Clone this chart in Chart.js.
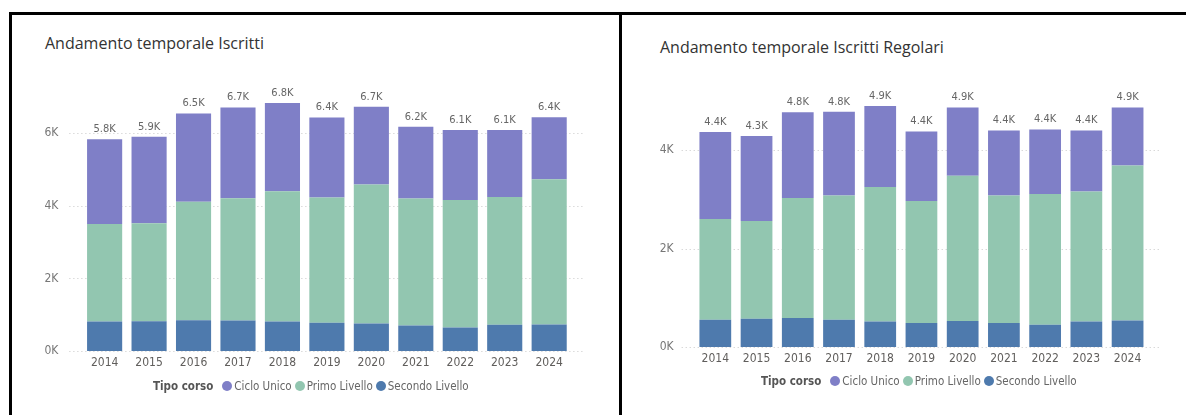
<!DOCTYPE html>
<html>
<head>
<meta charset="utf-8">
<script src="https://cdn.jsdelivr.net/npm/chart.js@4.4.1/dist/chart.umd.min.js"></script>
<style>
  body { margin: 0; width: 1186px; height: 415px; overflow: hidden; background: #fff; position: relative; }
  .line { position: absolute; background: #000; }
  .title { position: absolute; font-family: "Open Sans", sans-serif; font-size: 16px; color: #333; white-space: nowrap; }
  .legend { position: absolute; font-family: "DejaVu Sans Condensed", sans-serif; font-size: 11.5px; color: #666; white-space: nowrap; display: flex; align-items: center; }
  .legend b { color: #555; margin-right: 6px; }
  .legend .dot { display: inline-block; width: 10px; height: 10px; border-radius: 50%; margin: 0 2px 0 3px; }
  canvas { position: absolute; }
</style>
</head>
<body>
<div class="line" style="left:9px; top:12px; width:1177px; height:3px"></div>
<div class="line" style="left:9px; top:12px; width:3px; height:403px"></div>
<div class="line" style="left:619px; top:12px; width:3px; height:403px"></div>

<div class="title" style="left:45px; top:32px">Andamento temporale Iscritti</div>
<div class="title" style="left:660px; top:36px">Andamento temporale Iscritti Regolari</div>

<div style="position:absolute; left:12px; top:15px; width:607px; height:400px">
  <canvas id="chartIscritti"></canvas>
</div>
<div style="position:absolute; left:622px; top:15px; width:564px; height:400px">
  <canvas id="chartRegolari"></canvas>
</div>

<div class="legend" id="legendIscritti" style="left:153px; top:379px"></div>
<div class="legend" id="legendRegolari" style="left:761px; top:374px"></div>

<script>
const years = ["2014", "2015", "2016", "2017", "2018", "2019", "2020", "2021", "2022", "2023", "2024"];
const seriesNames = ["Secondo Livello", "Primo Livello", "Ciclo Unico"];
const seriesColors = ["#4e7aad", "#92c6b0", "#7f7fc7"];

// Iscritti
const iscrittiSecondo = [810, 820, 850, 840, 810, 780, 760, 700, 650, 720, 730];
const iscrittiPrimo = [2690, 2700, 3260, 3370, 3590, 3450, 3830, 3500, 3510, 3520, 4000];
const iscrittiCiclo = [2330, 2380, 2430, 2500, 2430, 2200, 2140, 1980, 1930, 1850, 1710];

// Iscritti regolari
const regolariSecondo = [555, 575, 590, 555, 520, 490, 530, 490, 450, 520, 540];
const regolariPrimo = [2045, 1985, 2440, 2525, 2730, 2480, 2950, 2590, 2660, 2640, 3150];
const regolariCiclo = [1770, 1730, 1740, 1700, 1650, 1410, 1390, 1320, 1310, 1240, 1180];

const yTicksIscritti = [0, 2000, 4000, 6000];
const yTicksRegolari = [0, 2000, 4000];

Chart.defaults.font.family = "DejaVu Sans Condensed";
Chart.defaults.font.size = 12;
Chart.defaults.color = "#666";

const dottedGrid = {
  id: "dottedGrid",
  beforeDatasetsDraw(chart, args, opts) {
    const ctx = chart.ctx;
    const y = chart.scales.y;
    const { left, right } = chart.chartArea;
    ctx.save();
    ctx.strokeStyle = "#c8c8c8";
    ctx.lineWidth = 1;
    ctx.setLineDash([1, 3]);
    y.ticks.forEach(t => {
      const py = Math.round(y.getPixelForValue(t.value)) + 0.5;
      ctx.beginPath();
      ctx.moveTo(left - opts.extLeft, py);
      ctx.lineTo(right + opts.extRight, py);
      ctx.stroke();
    });
    ctx.restore();
  }
};

const totalLabels = {
  id: "totalLabels",
  afterDatasetsDraw(chart) {
    const ctx = chart.ctx;
    const sets = chart.data.datasets;
    const meta = chart.getDatasetMeta(sets.length - 1);
    ctx.save();
    ctx.font = "11px 'DejaVu Sans Condensed'";
    ctx.fillStyle = "#666";
    ctx.textAlign = "center";
    ctx.textBaseline = "middle";
    meta.data.forEach((bar, i) => {
      const total = sets.reduce((s, d) => s + d.data[i], 0);
      ctx.fillText((total / 1000).toFixed(1) + "K", bar.x, bar.y - 10);
    });
    ctx.restore();
  }
};

function makeChart(id, values, ticks, cfg) {
  return new Chart(document.getElementById(id), {
    type: "bar",
    data: {
      labels: years,
      datasets: values.map((v, i) => ({
        label: seriesNames[i],
        data: v,
        backgroundColor: seriesColors[i],
        borderWidth: 0,
        categoryPercentage: 1,
        barPercentage: cfg.barPct,
      })),
    },
    options: {
      responsive: true,
      maintainAspectRatio: false,
      animation: false,
      layout: { padding: { top: cfg.padTop, right: cfg.padRight, left: 0, bottom: 0 } },
      plugins: {
        legend: { display: false },
        tooltip: { enabled: false },
        dottedGrid: { extLeft: 13, extRight: 11 },
      },
      scales: {
        x: {
          stacked: true,
          grid: { display: false, drawTicks: false },
          border: { display: false },
          ticks: { padding: 5, color: "#605e5c" },
          afterFit(scale) { scale.height = cfg.xHeight; },
        },
        y: {
          stacked: true,
          min: 0,
          max: cfg.yMax,
          grid: { display: false, drawTicks: false },
          border: { display: false },
          afterBuildTicks(scale) { scale.ticks = ticks.map(v => ({ value: v })); },
          ticks: {
            padding: cfg.yPad,
            color: "#777",
            callback: v => (v / 1000) + "K",
          },
          afterFit(scale) { scale.width = cfg.yWidth; },
        },
      },
    },
    plugins: [dottedGrid, totalLabels],
  });
}

makeChart("chartIscritti", [iscrittiSecondo, iscrittiPrimo, iscrittiCiclo], yTicksIscritti,
  { yMax: 7000, padTop: 81.9, padRight: 47.6, yWidth: 70.4, yPad: 24, xHeight: 64, barPct: 0.79 });
makeChart("chartRegolari", [regolariSecondo, regolariPrimo, regolariCiclo], yTicksRegolari,
  { yMax: 5000, padTop: 86, padRight: 37.8, yWidth: 72.7, yPad: 21, xHeight: 68, barPct: 0.77 });

function buildLegend(id) {
  const el = document.getElementById(id);
  let html = "<b>Tipo corso</b>";
  [2, 1, 0].forEach(i => {
    html += '<span class="dot" style="background:' + seriesColors[i] + '"></span><span>' + seriesNames[i] + "</span>";
  });
  el.innerHTML = html;
}
buildLegend("legendIscritti");
buildLegend("legendRegolari");
</script>
</body>
</html>
